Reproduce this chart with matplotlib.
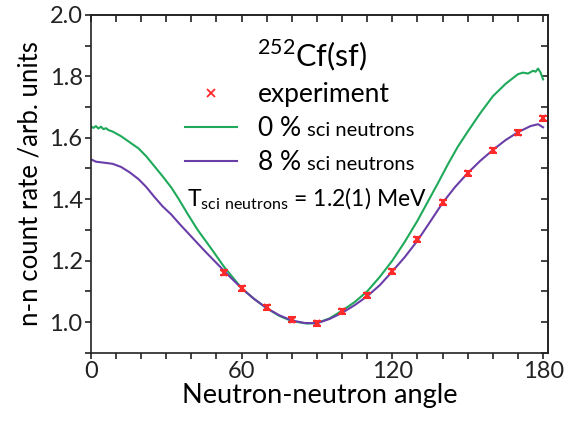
import numpy as np
import matplotlib
matplotlib.use('Agg')
import matplotlib.pyplot as plt
from matplotlib.legend_handler import HandlerLine2D
from matplotlib.ticker import MultipleLocator

plt.rcParams['font.family'] = ['Lato', 'DejaVu Sans']

# experiment points (angle in degrees, rate)
exp_angle = [53, 60, 70, 80, 90, 100, 110, 120, 130, 140, 150, 160, 170, 180]
exp_rate = [1.160, 1.110, 1.048, 1.007, 0.996, 1.035, 1.087, 1.166, 1.269, 1.390,
            1.484, 1.559, 1.617, 1.663]
exp_err = [0.008] * len(exp_angle)

# simulation, 0 % sci neutrons
ang0 = [0, 1, 2, 3, 4, 5, 6, 7, 8.7, 12, 15.5, 19, 22, 25, 28.5, 32, 35, 38.5, 42.5,
        48, 53, 60, 65, 70, 75, 80, 86, 90, 95, 100, 105, 110, 115, 120, 125, 130,
        134, 138, 142, 146, 150, 155, 160, 165, 170, 172, 174, 176, 177, 178, 179, 180]
rate0 = [1.637, 1.632, 1.638, 1.630, 1.636, 1.628, 1.631, 1.625, 1.620, 1.605, 1.585,
         1.565, 1.540, 1.510, 1.475, 1.438, 1.400, 1.352, 1.300, 1.238, 1.180, 1.110,
         1.075, 1.045, 1.020, 1.003, 0.995, 0.997, 1.012, 1.037, 1.065, 1.100, 1.147,
         1.200, 1.262, 1.330, 1.390, 1.450, 1.512, 1.570, 1.620, 1.680, 1.735, 1.775,
         1.807, 1.812, 1.809, 1.818, 1.815, 1.825, 1.812, 1.790]

# simulation, 8 % sci neutrons
ang8 = [0, 1, 2, 4, 6, 8.7, 12, 15.5, 19, 22, 25, 28.5, 32, 35, 40, 45, 50, 55, 60,
        65, 70, 75, 80, 85, 90, 95, 100, 105, 110, 115, 120, 125, 130, 135, 140, 145,
        150, 155, 160, 165, 170, 173, 175, 178, 180]
rate8 = [1.530, 1.526, 1.522, 1.520, 1.518, 1.515, 1.505, 1.487, 1.465, 1.440, 1.410,
         1.377, 1.350, 1.322, 1.278, 1.234, 1.192, 1.150, 1.110, 1.075, 1.045, 1.022,
         1.005, 0.997, 0.996, 1.010, 1.030, 1.055, 1.084, 1.120, 1.165, 1.212, 1.265,
         1.326, 1.388, 1.440, 1.485, 1.525, 1.560, 1.592, 1.618, 1.630, 1.638, 1.644,
         1.634]

green = '#1fa95a'
purple = '#6a3ea8'
red = '#ff2a2a'
fs = 17


class RightMarker(HandlerLine2D):
    def get_xdata(self, legend, xdescent, ydescent, width, height, fontsize):
        xdata, xm = super().get_xdata(legend, xdescent, ydescent, width, height, fontsize)
        return xdata, [0.86 * width - xdescent]


fig = plt.figure(figsize=(5.68, 4.25), dpi=100)
ax = fig.add_axes([0.160, 0.170, 0.805, 0.795])

l0, = ax.plot(ang0, rate0, color=green, lw=1.5)
l8, = ax.plot(ang8, rate8, color=purple, lw=1.5)
eb = ax.errorbar(exp_angle, exp_rate, yerr=exp_err, fmt='x', color=red, ms=5,
                 mew=1.5, capsize=3, elinewidth=1.5, zorder=5)
hx, = ax.plot([], [], 'x', color=red, ms=6, mew=1.3)

ax.set_xlim(0, 182)
ax.set_ylim(0.9, 2.0)
ax.xaxis.set_major_locator(MultipleLocator(60))
ax.xaxis.set_minor_locator(MultipleLocator(10))
ax.yaxis.set_minor_locator(MultipleLocator(0.1))
ax.set_yticks([1.0, 1.2, 1.4, 1.6, 1.8, 2.0])
ax.tick_params(which='both', direction='out', length=4, width=1.2,
               colors='#222222', labelsize=fs, pad=2)
# inward ticks on the top and right edges
sx = ax.secondary_xaxis('top')
sx.xaxis.set_major_locator(MultipleLocator(60))
sx.xaxis.set_minor_locator(MultipleLocator(10))
sx.tick_params(which='both', direction='in', length=5, width=1.2, colors='#222222',
               labeltop=False)
sy = ax.secondary_yaxis('right')
sy.set_yticks([1.0, 1.2, 1.4, 1.6, 1.8, 2.0])
sy.yaxis.set_minor_locator(MultipleLocator(0.1))
sy.tick_params(which='both', direction='in', length=5, width=1.2, colors='#222222',
               labelright=False)
for a in (ax, sx, sy):
    for s in a.spines.values():
        s.set_linewidth(1.2)
        s.set_color('#222222')

ax.set_xlabel('Neutron-neutron angle', fontsize=19.5, labelpad=1)
ax.set_ylabel('n-n count rate /arb. units', fontsize=18.5, labelpad=5)

ax.text(0.483, 0.881, r'$^{\mathregular{252}}$Cf(sf)', transform=ax.transAxes,
        ha='center', va='center', fontsize=22)

leg = ax.legend([hx, l0, l8], ['experiment', '0 %', '8 %'], loc='upper left',
                bbox_to_anchor=(0.1825, 0.833), frameon=False, fontsize=19,
                handlelength=1.97, handletextpad=0.8, labelspacing=0.34,
                borderaxespad=0, handler_map={hx: RightMarker(numpoints=1)})

ax.text(0.21, 0.457, r'T$_{\mathregular{sci\ neutrons}}$ = 1.2(1) MeV',
        transform=ax.transAxes, ha='left', va='center', fontsize=16.5)

# small "sci neutrons" after the percentage labels, on the same baseline
fig.canvas.draw()
r = fig.canvas.get_renderer()
inv = fig.transFigure.inverted()
for t in leg.get_texts()[1:]:
    bb = t.get_window_extent(r)
    w, h, d = r.get_text_width_height_descent('lp', t.get_fontproperties(), ismath=False)
    x, y = inv.transform((bb.x1 + 6, bb.y0 + d))
    fig.text(x, y, 'sci neutrons', fontsize=14.5, ha='left', va='baseline')

fig.savefig('out.png', dpi=100)
